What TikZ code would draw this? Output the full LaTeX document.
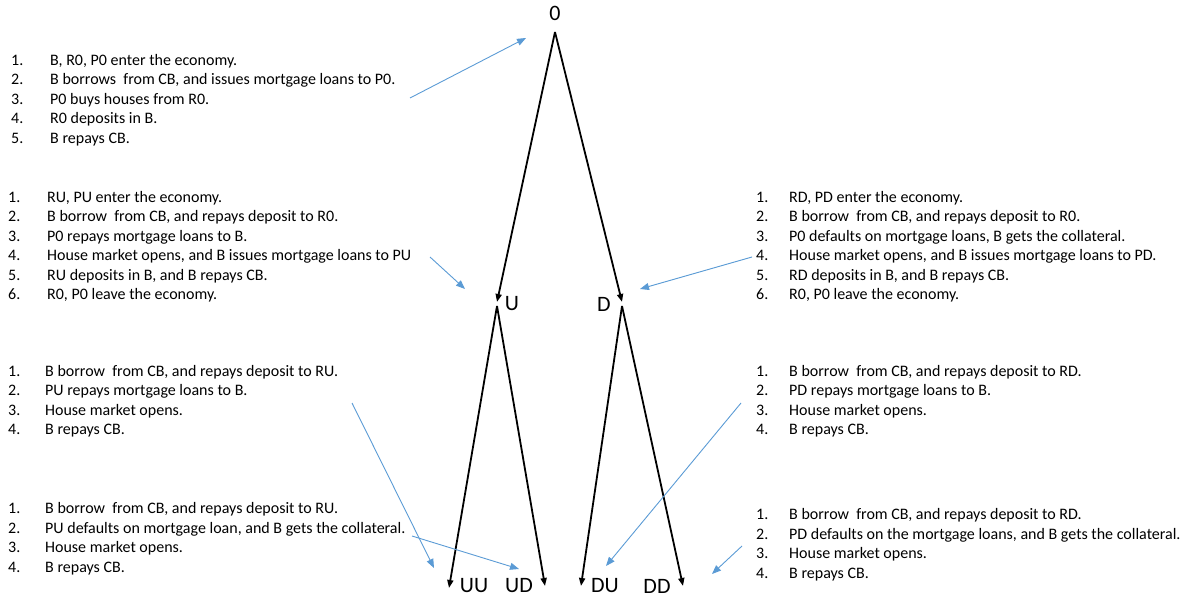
\documentclass[tikz,border=0pt]{standalone}
\usepackage{fontspec}
\setmainfont{Carlito}
\usetikzlibrary{arrows.meta}
\definecolor{noteblue}{RGB}{91,155,213}
\newcommand\stepblock[2]{\begin{tabular}[t]{@{}p{#1}@{}l@{}}#2\end{tabular}}
\begin{document}
\begin{tikzpicture}[x=1pt,y=-1pt,
  tree/.style={-{Triangle[length=8pt,width=6pt]}, line width=1.8pt, black},
  note/.style={-{Triangle[length=9pt,width=7pt]}, line width=0.9pt, noteblue},
  lbl/.style={font=\fontsize{22}{26}\selectfont, inner sep=0pt},
  steps/.style={anchor=base west, inner sep=0pt, font=\fontsize{16}{19.5}\selectfont}]
\useasboundingbox (0,0) rectangle (1197,601);

% tree points
\coordinate (n0) at (555,32);
\coordinate (nU) at (497,302);
\coordinate (nD) at (622,302);
\coordinate (nUb) at (497,306);
\coordinate (nDb) at (622,306);
\coordinate (nUU) at (449,588);
\coordinate (nUD) at (545,586);
\coordinate (nDU) at (581,586);
\coordinate (nDD) at (683,586);

\draw[tree] (n0) -- (nU);
\draw[tree] (n0) -- (nD);
\draw[tree] (nUb) -- (nUU);
\draw[tree] (nUb) -- (nUD);
\draw[tree] (nDb) -- (nDU);
\draw[tree] (nDb) -- (nDD);

% labels
\node[lbl] (l0) at (555,13) {0};
\node[lbl] (lU) at (512,304) {U};
\node[lbl] (lD) at (604,304) {D};
\node[lbl] (lUU) at (474,586) {UU};
\node[lbl] (lUD) at (519,586) {UD};
\node[lbl] (lDU) at (605,586) {DU};
\node[lbl] (lDD) at (657,586) {DD};

% step lists
\node[steps] (sA) at (11,65.5) {\stepblock{39pt}{%
1. & B, R0, P0 enter the economy.\\
2. & B borrows\ \ from CB, and issues mortgage loans to P0.\\
3. & P0 buys houses from R0.\\
4. & R0 deposits in B.\\
5. & B repays CB.}};

\node[steps] (sB) at (8,202.5) {\stepblock{39pt}{%
1. & RU, PU enter the economy.\\
2. & B borrow\ \ from CB, and repays deposit to R0.\\
3. & P0 repays mortgage loans to B.\\
4. & House market opens, and B issues mortgage loans to PU\\
5. & RU deposits in B, and B repays CB.\\
6. & R0, P0 leave the economy.}};

\node[steps] (sC) at (756,202.5) {\stepblock{33pt}{%
1. & RD, PD enter the economy.\\
2. & B borrow\ \ from CB, and repays deposit to R0.\\
3. & P0 defaults on mortgage loans, B gets the collateral.\\
4. & House market opens, and B issues mortgage loans to PD.\\
5. & RD deposits in B, and B repays CB.\\
6. & R0, P0 leave the economy.}};

\node[steps] (sD) at (8,376.5) {\stepblock{37pt}{%
1. & B borrow\ \ from CB, and repays deposit to RU.\\
2. & PU repays mortgage loans to B.\\
3. & House market opens.\\
4. & B repays CB.}};

\node[steps] (sE) at (756,376.5) {\stepblock{33pt}{%
1. & B borrow\ \ from CB, and repays deposit to RD.\\
2. & PD repays mortgage loans to B.\\
3. & House market opens.\\
4. & B repays CB.}};

\node[steps] (sF) at (8,513.5) {\stepblock{37pt}{%
1. & B borrow\ \ from CB, and repays deposit to RU.\\
2. & PU defaults on mortgage loan, and B gets the collateral.\\
3. & House market opens.\\
4. & B repays CB.}};

\node[steps] (sG) at (756,519.5) {\stepblock{33pt}{%
1. & B borrow\ \ from CB, and repays deposit to RD.\\
2. & PD defaults on the mortgage loans, and B gets the collateral.\\
3. & House market opens.\\
4. & B repays CB.}};

% blue pointer arrows
\coordinate (a1s) at (410,98);  \coordinate (a1e) at (526,38);
\coordinate (a2s) at (430,257); \coordinate (a2e) at (465,289);
\coordinate (a3s) at (752,257); \coordinate (a3e) at (640,289);
\coordinate (a4s) at (352,403); \coordinate (a4e) at (434,568);
\coordinate (a5s) at (412,536); \coordinate (a5e) at (519,569);
\coordinate (a6s) at (741,403); \coordinate (a6e) at (606,566);
\coordinate (a7s) at (742,546); \coordinate (a7e) at (712,574);
\draw[note] (a1s) -- (a1e);
\draw[note] (a2s) -- (a2e);
\draw[note] (a3s) -- (a3e);
\draw[note] (a4s) -- (a4e);
\draw[note] (a5s) -- (a5e);
\draw[note] (a6s) -- (a6e);
\draw[note] (a7s) -- (a7e);
\end{tikzpicture}
\end{document}
